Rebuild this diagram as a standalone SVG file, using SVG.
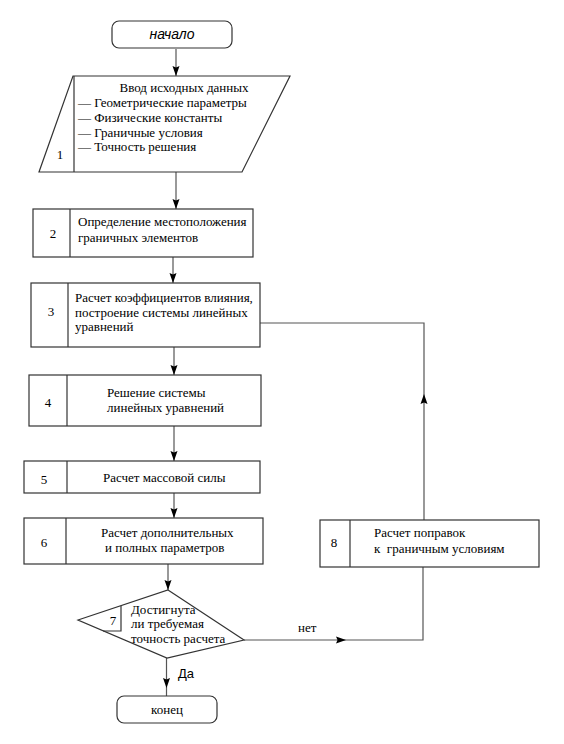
<svg xmlns="http://www.w3.org/2000/svg" xmlns:xlink="http://www.w3.org/1999/xlink" width="564" height="744" viewBox="0 0 564 744">
<style>
.shape{fill:#fff;stroke:#333;stroke-width:1.2}
.div{stroke:#333;stroke-width:1.2;fill:none}
.con{stroke:#555;stroke-width:1.2;fill:none}
.ah{fill:#000}
.t{font-family:"Liberation Serif","Times New Roman",serif;font-size:13px;fill:#000;white-space:pre}
.n{font-family:"Liberation Serif","Times New Roman",serif;font-size:13px;fill:#000;text-anchor:middle}
.s{font-family:"Liberation Sans",Arial,sans-serif;fill:#000}
</style>
<defs>
<path id="ah" d="M0,0 L-3.5,-10 L0,-8.5 L3.5,-10 Z"/>
</defs>
<rect width="564" height="744" fill="#fff"/>
<g id="connectors">
<line class="con" x1="176" y1="49" x2="176" y2="76"/>
<line class="con" x1="176" y1="172" x2="176" y2="209"/>
<line class="con" x1="173" y1="257" x2="173" y2="283"/>
<line class="con" x1="174" y1="347" x2="174" y2="375"/>
<line class="con" x1="174" y1="426" x2="174" y2="461"/>
<line class="con" x1="174" y1="493" x2="174" y2="518"/>
<line class="con" x1="168" y1="564" x2="168" y2="590"/>
<line class="con" x1="166.5" y1="658" x2="166.5" y2="696"/>
<polyline class="con" points="244,640 423,640 423,567"/>
<polyline class="con" points="424,520 424,323 260,323"/>
<g class="ah">
<use xlink:href="#ah" transform="translate(176,76)"/>
<use xlink:href="#ah" transform="translate(176,209)"/>
<use xlink:href="#ah" transform="translate(173,283)"/>
<use xlink:href="#ah" transform="translate(174,375)"/>
<use xlink:href="#ah" transform="translate(174,461)"/>
<use xlink:href="#ah" transform="translate(174,518)"/>
<use xlink:href="#ah" transform="translate(168,590)"/>
<use xlink:href="#ah" transform="translate(166.5,688)"/>
<use xlink:href="#ah" transform="translate(346,640) rotate(-90)"/>
<use xlink:href="#ah" transform="translate(424,394) rotate(180)"/>
</g>
<text class="t" x="298" y="632">нет</text>
<text class="s" x="178" y="678" font-size="13">Да</text>
</g>
<g id="start">
<rect class="shape" x="112" y="21" width="120" height="27" rx="7"/>
<text class="s" x="172" y="39" font-size="14" font-style="italic" text-anchor="middle">начало</text>
</g>
<g id="node1">
<polygon class="shape" points="73,76 290,76 242,172 39,172"/>
<line class="div" x1="74" y1="76" x2="74" y2="172"/>
<text class="n" x="60" y="159">1</text>
<text class="t" x="184" y="92" text-anchor="middle">Ввод исходных данных</text>
<text class="t" x="78" y="107">— Геометрические параметры</text>
<text class="t" x="78" y="122">— Физические константы</text>
<text class="t" x="78" y="137">— Граничные условия</text>
<text class="t" x="78" y="151">— Точность решения</text>
</g>
<g id="node2">
<rect class="shape" x="33" y="209" width="220" height="48"/>
<line class="div" x1="70" y1="209" x2="70" y2="257"/>
<text class="n" x="53" y="238">2</text>
<text class="t" x="78" y="226">Определение местоположения</text>
<text class="t" x="78" y="242">граничных элементов</text>
</g>
<g id="node3">
<rect class="shape" x="31" y="283" width="229" height="64"/>
<line class="div" x1="68" y1="283" x2="68" y2="347"/>
<text class="n" x="51" y="316">3</text>
<text class="t" x="75" y="302">Расчет коэффициентов влияния,</text>
<text class="t" x="75" y="317">построение системы линейных</text>
<text class="t" x="75" y="331">уравнений</text>
</g>
<g id="node4">
<rect class="shape" x="29" y="375" width="232" height="51"/>
<line class="div" x1="67" y1="375" x2="67" y2="426"/>
<text class="n" x="48" y="407">4</text>
<text class="t" x="107" y="397">Решение системы</text>
<text class="t" x="107" y="412">линейных уравнений</text>
</g>
<g id="node5">
<rect class="shape" x="24" y="461" width="236" height="32"/>
<line class="div" x1="67" y1="461" x2="67" y2="493"/>
<text class="n" x="44" y="484">5</text>
<text class="t" x="103" y="482">Расчет массовой силы</text>
</g>
<g id="node6">
<rect class="shape" x="24" y="518" width="239" height="46"/>
<line class="div" x1="66" y1="518" x2="66" y2="564"/>
<text class="n" x="44" y="547">6</text>
<text class="t" x="101" y="537">Расчет дополнительных</text>
<text class="t" x="105" y="552">и полных параметров</text>
</g>
<g id="node7">
<polygon class="shape" points="168,590 244,640 167,658 78,620"/>
<polyline class="div" points="121,606 121,631 103,631"/>
<text class="n" x="113" y="625">7</text>
<text class="t" x="131" y="614">Достигнута</text>
<text class="t" x="131" y="628">ли требуемая</text>
<text class="t" x="131" y="643">точность расчета</text>
</g>
<g id="node8">
<rect class="shape" x="320" y="520" width="219" height="47"/>
<line class="div" x1="350" y1="520" x2="350" y2="567"/>
<text class="n" x="334" y="547">8</text>
<text class="t" x="374" y="537">Расчет поправок</text>
<text class="t" x="374" y="553">к  граничным условиям</text>
</g>
<g id="end">
<rect class="shape" x="117" y="696" width="100" height="27" rx="7"/>
<text class="n" x="167" y="714">конец</text>
</g>
</svg>
